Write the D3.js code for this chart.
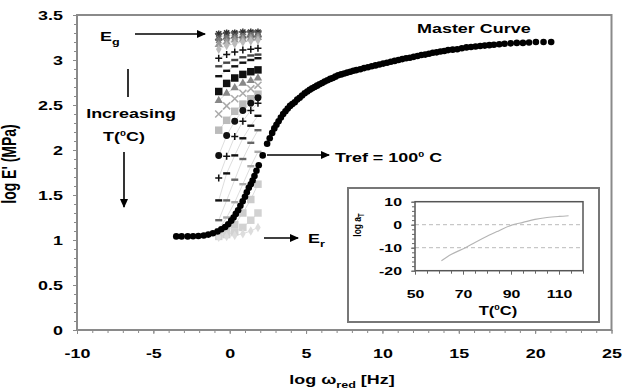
<!DOCTYPE html>
<html>
<head>
<meta charset="utf-8">
<script src="https://cdn.jsdelivr.net/npm/d3@7"></script>
<style>
  html, body { margin: 0; padding: 0; background: #fff; }
  svg { display: block; font-family: "Liberation Sans", Arial, sans-serif; font-weight: bold; }
</style>
</head>
<body>
<svg id="chart" width="622" height="392"></svg>
<script>
// ---- Master curve: reduced frequency (log Hz) vs log E' (MPa), Tref = 100 C ----
const masterLogW = [-3.5, -3.15, -2.75, -2.4, -2.05, -1.7, -1.4, -1.1, -0.8, -0.55, -0.3, -0.1, 0.1, 0.25, 0.4,
  0.55, 0.7, 0.85, 1.0, 1.12, 1.25, 1.38, 1.5, 1.62, 1.75, 1.9, 2.16, 2.45, 2.62, 2.78, 2.92, 3.06, 3.2, 3.35,
  3.5, 3.65, 3.8, 3.95, 4.1, 4.26, 4.42, 4.58, 4.74, 4.91, 5.08, 5.24, 5.4, 5.56, 5.72, 5.88, 6.05, 6.22, 6.4,
  6.58, 6.75, 6.92, 7.1, 7.3, 7.5, 7.7, 7.9, 8.1, 8.3, 8.55, 8.8, 9.05, 9.3, 9.55, 9.8, 10.05, 10.3, 10.55,
  10.8, 11.05, 11.3, 11.55, 11.8, 12.05, 12.3, 12.55, 12.8, 13.05, 13.3, 13.55, 13.8, 14.05, 14.3, 14.6, 14.9,
  15.2, 15.5, 15.8, 16.1, 16.4, 16.7, 17.0, 17.3, 17.65, 18.0, 18.4, 18.8, 19.2, 19.6, 20.05, 20.55, 21.05];
const masterLogE = [1.04, 1.04, 1.04, 1.042, 1.045, 1.05, 1.06, 1.075, 1.095, 1.12, 1.145, 1.175, 1.215, 1.25, 1.29,
  1.33, 1.38, 1.43, 1.48, 1.53, 1.58, 1.62, 1.66, 1.71, 1.77, 1.83, 1.94, 2.07, 2.13, 2.19, 2.24, 2.28, 2.32, 2.36,
  2.40, 2.43, 2.46, 2.49, 2.51, 2.53, 2.56, 2.58, 2.605, 2.63, 2.65, 2.67, 2.685, 2.70, 2.715, 2.73, 2.745, 2.76, 2.775,
  2.79, 2.80, 2.815, 2.83, 2.84, 2.85, 2.86, 2.87, 2.88, 2.888, 2.898, 2.91, 2.92, 2.93, 2.94, 2.95, 2.96, 2.97, 2.98,
  2.99, 3.0, 3.01, 3.02, 3.025, 3.035, 3.045, 3.055, 3.06, 3.07, 3.08, 3.085, 3.095, 3.1, 3.11, 3.115, 3.12,
  3.13, 3.14, 3.145, 3.15, 3.155, 3.16, 3.165, 3.17, 3.175, 3.18, 3.185, 3.19, 3.19, 3.195, 3.2, 3.2, 3.2];

// ---- Isothermal frequency sweeps (log Hz) before shifting, coldest first ----
const sweepLogW = [-0.72, -0.2, 0.33, 0.86, 1.38, 1.85];
const isoLogE = [
  [3.29, 3.30, 3.30, 3.31, 3.31, 3.31],
  [3.26, 3.27, 3.28, 3.28, 3.29, 3.29],
  [3.22, 3.24, 3.25, 3.26, 3.27, 3.27],
  [3.17, 3.20, 3.22, 3.23, 3.24, 3.25],
  [3.12, 3.16, 3.18, 3.20, 3.21, 3.22],
  [3.02, 3.06, 3.09, 3.11, 3.12, 3.13],
  [2.93, 2.97, 3.00, 3.03, 3.05, 3.06],
  [2.82, 2.88, 2.93, 2.97, 3.00, 3.02],
  [2.65, 2.74, 2.80, 2.84, 2.87, 2.89],
  [2.55, 2.63, 2.69, 2.74, 2.77, 2.80],
  [2.40, 2.49, 2.57, 2.63, 2.68, 2.72],
  [2.22, 2.33, 2.43, 2.51, 2.57, 2.62],
  [1.94, 2.16, 2.32, 2.44, 2.52, 2.58],
  [1.69, 1.93, 2.15, 2.32, 2.44, 2.52],
  [1.44, 1.74, 1.94, 2.13, 2.27, 2.38],
  [1.22, 1.44, 1.67, 1.90, 2.08, 2.22],
  [1.12, 1.25, 1.42, 1.62, 1.82, 1.98],
  [1.06, 1.10, 1.17, 1.30, 1.45, 1.62],
  [1.04, 1.06, 1.09, 1.14, 1.22, 1.30],
  [1.03, 1.04, 1.05, 1.07, 1.10, 1.14]
];
// marker style for each sweep (same order as isoLogE)
const isoStyle = [
  { m: "asterisk", c: "#333" }, { m: "times", c: "#555" }, { m: "asterisk", c: "#777" },
  { m: "triangle", c: "#999" }, { m: "diamond", c: "#bbb" }, { m: "plus", c: "#111" },
  { m: "dash", c: "#444" }, { m: "dash", c: "#111" }, { m: "square", c: "#111" },
  { m: "triangle", c: "#888" }, { m: "times", c: "#aaa" }, { m: "square", c: "#bbb" },
  { m: "circle", c: "#111" }, { m: "plus", c: "#111" }, { m: "dash", c: "#111" },
  { m: "dash", c: "#666" }, { m: "dash", c: "#aaa" }, { m: "square", c: "#ccc" },
  { m: "square", c: "#d2d2d2" }, { m: "diamond", c: "#ddd" }
];

// ---- Shift factor vs temperature (inset) ----
const shiftT = [61, 65, 71, 75, 80, 85, 90, 95, 100, 105, 110, 114];
const shiftLogA = [-15.7, -13.0, -10.0, -7.7, -5.0, -2.6, -0.3, 1.0, 2.3, 3.1, 3.6, 3.9];

// ---- Tick labels ----
const xTicks = [-10, -5, 0, 5, 10, 15, 20, 25];
const yTicks = [0, 0.5, 1, 1.5, 2, 2.5, 3, 3.5];
const insetXTicks = [50, 70, 90, 110];
const insetYTicks = [-20, -10, 0, 10];

const SX = 1.38;          // horizontal text stretch
const FRAME = "#8a8a8a";

const svg = d3.select("#chart");

// arrow head
svg.append("defs").append("marker")
  .attr("id", "head").attr("markerUnits", "userSpaceOnUse")
  .attr("markerWidth", 9).attr("markerHeight", 8)
  .attr("refX", 8).attr("refY", 4).attr("orient", "auto")
  .append("path").attr("d", "M0,0L9,4L0,8Z").attr("fill", "#000");

const x = d3.scaleLinear().domain([-10, 25]).range([77, 611.5]);
const y = d3.scaleLinear().domain([0, 3.5]).range([330, 15]);

// plot frame
svg.append("rect").attr("x", x(-10)).attr("y", y(3.5))
  .attr("width", x(25) - x(-10)).attr("height", y(0) - y(3.5))
  .attr("fill", "#fff").attr("stroke", FRAME).attr("stroke-width", 2);

// axes
function styleAxis(g) {
  g.select(".domain").remove();
  g.selectAll("line").attr("stroke", FRAME).attr("stroke-width", 1);
}
const yMinor = svg.append("g").attr("transform", `translate(${x(-10)},0)`)
  .call(d3.axisLeft(y).tickValues(d3.range(0, 3.501, 0.1)).tickSize(3).tickFormat(""));
styleAxis(yMinor);
const yAx = svg.append("g").attr("transform", `translate(${x(-10)},0)`)
  .call(d3.axisLeft(y).tickValues(yTicks).tickSize(4).tickFormat(d => String(d)));
styleAxis(yAx);
yAx.selectAll("text").attr("x", -14 / SX).attr("transform", `scale(${SX},1)`)
  .attr("font-size", 13).attr("font-weight", "bold").attr("fill", "#000")
  .attr("font-family", '"Liberation Sans", Arial, sans-serif');

const xMinor = svg.append("g").attr("transform", `translate(0,${y(0)})`)
  .call(d3.axisBottom(x).tickValues(d3.range(-10, 25.01, 1)).tickSize(3).tickFormat(""));
styleAxis(xMinor);
const xAx = svg.append("g").attr("transform", `translate(0,${y(0)})`)
  .call(d3.axisBottom(x).tickValues(xTicks).tickSize(4).tickFormat(d => String(d)));
styleAxis(xAx);
xAx.selectAll("text").attr("y", 19).attr("transform", `scale(${SX},1)`)
  .attr("font-size", 13).attr("font-weight", "bold").attr("fill", "#000")
  .attr("font-family", '"Liberation Sans", Arial, sans-serif');

// text helper: parts = [[string, "n"|"sub"|"sup"], ...]
function label(px, py, parts, size, anchor, rot) {
  const t = svg.append("text")
    .attr("transform", `translate(${px},${py}) scale(${SX},1)` + (rot ? ` rotate(${rot})` : ""))
    .attr("font-size", size).attr("text-anchor", anchor || "start").attr("fill", "#000");
  let shift = 0;
  parts.forEach(([s, k]) => {
    const ts = t.append("tspan").text(s);
    let target = 0;
    if (k === "sub") { target = size * 0.28; ts.attr("font-size", size * 0.7); }
    if (k === "sup") { target = -size * 0.42; ts.attr("font-size", size * 0.6); }
    if (target !== shift) ts.attr("dy", target - shift);
    shift = target;
  });
  return t;
}

function arrow(x1, y1, x2, y2, head) {
  const l = svg.append("line").attr("x1", x1).attr("y1", y1).attr("x2", x2).attr("y2", y2)
    .attr("stroke", "#000").attr("stroke-width", 1.6);
  if (head) l.attr("marker-end", "url(#head)");
}

// marker shapes
function markerPath(type) {
  const s = 3.5;
  switch (type) {
    case "plus": return `M${-s},0H${s}M0,${-s}V${s}`;
    case "dash": return `M${-s},0H${s}`;
    case "times": return `M${-s},${-s}L${s},${s}M${-s},${s}L${s},${-s}`;
    case "asterisk": return `M${-s},0H${s}M0,${-s}V${s}M-2.6,-2.6L2.6,2.6M-2.6,2.6L2.6,-2.6`;
    case "square": return d3.symbol(d3.symbolSquare, 56)();
    case "triangle": return d3.symbol(d3.symbolTriangle, 30)();
    case "diamond": return d3.symbol(d3.symbolDiamond, 26)();
    default: return d3.symbol(d3.symbolCircle, 38)();
  }
}
const stroked = new Set(["plus", "dash", "times", "asterisk"]);

// isotherm connecting lines
const line = d3.line().x((d, i) => x(sweepLogW[i])).y(d => y(d));
const isoG = svg.append("g");
isoLogE.forEach(row => {
  isoG.append("path").attr("d", line(row)).attr("fill", "none")
    .attr("stroke", "#cfcfcf").attr("stroke-width", 0.7);
});
// isotherm markers
isoLogE.forEach((row, k) => {
  const st = isoStyle[k];
  isoG.selectAll(null).data(row).join("path")
    .attr("transform", (d, i) => `translate(${x(sweepLogW[i])},${y(d)})`)
    .attr("d", markerPath(st.m))
    .attr("fill", stroked.has(st.m) ? "none" : st.c)
    .attr("stroke", stroked.has(st.m) ? st.c : "none")
    .attr("stroke-width", st.m === "dash" ? 2.4 : 1.5);
});

// master curve
svg.append("g").selectAll("circle").data(masterLogW).join("circle")
  .attr("cx", d => x(d)).attr("cy", (d, i) => y(masterLogE[i])).attr("r", 3.3)
  .attr("fill", "#000");

// axis titles
label(16, 164, [["log E' (MPa)", "n"]], 14, "middle", -90);
label(342, 384, [["log ω", "n"], ["red", "sub"], [" [Hz]", "n"]], 13, "middle");

// annotations
label(100, 41, [["E", "n"], ["g", "sub"]], 13, "start");
arrow(135, 34, 205, 34, true);
arrow(128, 69, 128, 97, false);
label(131, 118, [["Increasing", "n"]], 13, "middle");
label(124, 141, [["T(", "n"], ["0", "sup"], ["C)", "n"]], 13, "middle");
arrow(124, 152, 124, 207, true);
label(417, 33, [["Master Curve", "n"]], 13, "start");
arrow(267, 155, 329, 155, true);
label(335, 162, [["Tref = 100", "n"], ["0", "sup"], [" C", "n"]], 13, "start");
arrow(264, 238, 298, 238, true);
label(308, 243, [["E", "n"], ["r", "sub"]], 13, "start");

// ---- inset: shift factor ----
svg.append("rect").attr("x", 348).attr("y", 188).attr("width", 251).attr("height", 134)
  .attr("fill", "#fff").attr("stroke", "#777").attr("stroke-width", 2);
const ix = d3.scaleLinear().domain([50, 120]).range([415, 583]);
const iy = d3.scaleLinear().domain([-20, 10]).range([270.7, 201.7]);

const ig = svg.append("g");
ig.selectAll(".grid").data([0, -10]).join("line")
  .attr("x1", ix(50)).attr("x2", ix(120)).attr("y1", d => iy(d)).attr("y2", d => iy(d))
  .attr("stroke", "#bbb").attr("stroke-width", 1).attr("stroke-dasharray", "4,3");
ig.append("path")
  .attr("d", d3.line().curve(d3.curveMonotoneX).x((d, i) => ix(shiftT[i])).y(d => iy(d))(shiftLogA))
  .attr("fill", "none").attr("stroke", "#b4b4b4").attr("stroke-width", 1.1);
ig.append("rect").attr("x", ix(50)).attr("y", iy(10))
  .attr("width", ix(120) - ix(50)).attr("height", iy(-20) - iy(10))
  .attr("fill", "none").attr("stroke", "#555").attr("stroke-width", 1.5);

function styleInset(g) {
  g.select(".domain").remove();
  g.selectAll("line").attr("stroke", "#666").attr("stroke-width", 1);
}
styleInset(svg.append("g").attr("transform", `translate(${ix(50)},0)`)
  .call(d3.axisLeft(iy).tickValues(d3.range(-20, 10.01, 2)).tickSize(3).tickFormat("")));
const iyAx = svg.append("g").attr("transform", `translate(${ix(50)},0)`)
  .call(d3.axisLeft(iy).tickValues(insetYTicks).tickSize(4).tickFormat(d => String(d)));
styleInset(iyAx);
iyAx.selectAll("text").attr("x", -13 / SX).attr("transform", `scale(${SX},1)`)
  .attr("font-size", 11.5).attr("font-weight", "bold").attr("fill", "#000")
  .attr("font-family", '"Liberation Sans", Arial, sans-serif');
styleInset(svg.append("g").attr("transform", `translate(0,${iy(-20)})`)
  .call(d3.axisBottom(ix).tickValues(d3.range(50, 120.01, 5)).tickSize(3).tickFormat("")));
const ixAx = svg.append("g").attr("transform", `translate(0,${iy(-20)})`)
  .call(d3.axisBottom(ix).tickValues(insetXTicks).tickSize(4).tickFormat(d => String(d)));
styleInset(ixAx);
ixAx.selectAll("text").attr("y", 19).attr("transform", `scale(${SX},1)`)
  .attr("font-size", 11.5).attr("font-weight", "bold").attr("fill", "#000")
  .attr("font-family", '"Liberation Sans", Arial, sans-serif');

label(498, 315, [["T(", "n"], ["0", "sup"], ["C)", "n"]], 12, "middle");
label(361, 225, [["log a", "n"], ["T", "sub"]], 8.5, "middle", -90);
</script>
</body>
</html>
